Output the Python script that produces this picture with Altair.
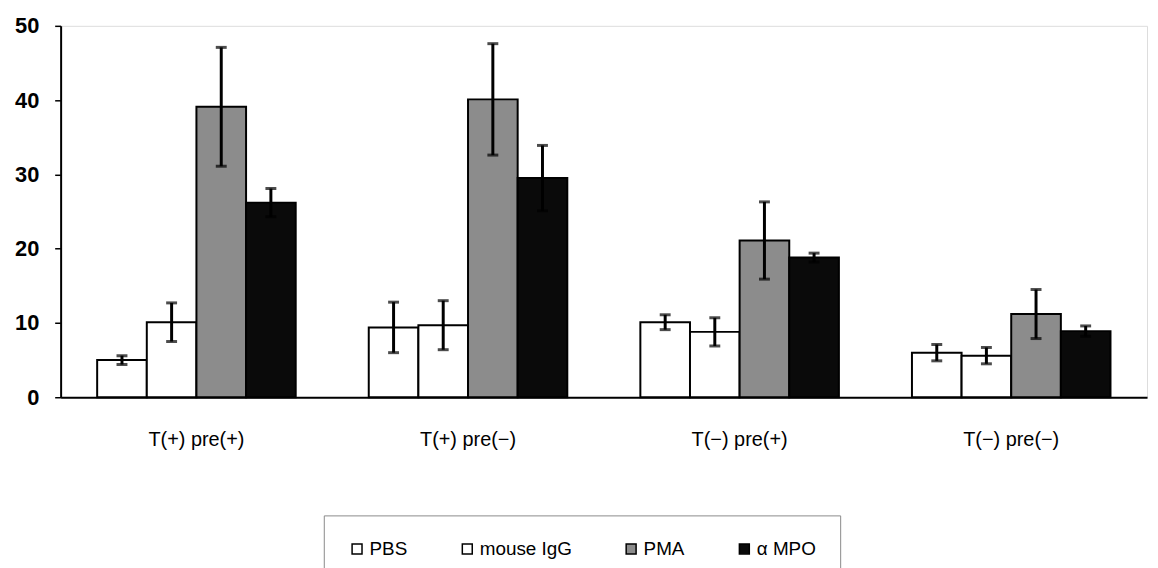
import altair as alt
import pandas as pd

categories = ["T(+) pre(+)", "T(+) pre(−)", "T(−) pre(+)", "T(−) pre(−)"]
series = ["PBS", "mouse IgG", "PMA", "α MPO"]
colors = ["#ffffff", "#ffffff", "#8c8c8c", "#0a0a0a"]

pbs = [5.0, 9.4, 10.1, 6.0]
pbs_err = [0.6, 3.4, 1.0, 1.1]
igg = [10.1, 9.7, 8.8, 5.6]
igg_err = [2.6, 3.3, 1.9, 1.1]
pma = [39.1, 40.1, 21.1, 11.2]
pma_err = [8.0, 7.5, 5.2, 3.3]
mpo = [26.2, 29.5, 18.8, 8.9]
mpo_err = [1.9, 4.4, 0.6, 0.7]

y_ticks = [0, 10, 20, 30, 40, 50]

rows = []
for s, vals, errs in zip(series, [pbs, igg, pma, mpo], [pbs_err, igg_err, pma_err, mpo_err]):
    for c, v, e in zip(categories, vals, errs):
        rows.append({"cat": c, "series": s, "value": v, "lo": v - e, "hi": v + e})
df = pd.DataFrame(rows)

x_enc = alt.X("cat:N", sort=categories,
              scale=alt.Scale(paddingInner=0.269, paddingOuter=0.1345),
              axis=alt.Axis(title=None, labelAngle=0, ticks=False, labelFontSize=20,
                            labelFont="Liberation Sans", labelColor="#000",
                            labelPadding=33, domainColor="#000", domainWidth=2))
xo_enc = alt.XOffset("series:N", sort=series, scale=alt.Scale(domain=series, paddingInner=0, paddingOuter=0))
y_scale = alt.Scale(domain=[0, 50], nice=False)

base = alt.Chart(df)

bars = base.mark_bar(stroke="#000", strokeWidth=2).encode(
    x=x_enc,
    xOffset=xo_enc,
    y=alt.Y("value:Q", scale=y_scale,
            axis=alt.Axis(title=None, values=y_ticks, grid=False, labelFontSize=22,
                          labelFontWeight="bold", labelFont="Liberation Sans",
                          labelColor="#000", tickSize=6, tickColor="#000", tickWidth=1.5,
                          labelPadding=16, domainColor="#000", domainWidth=2)),
    color=alt.Color("series:N", sort=series,
                    scale=alt.Scale(domain=series, range=colors),
                    legend=alt.Legend(title=None, orient="none", direction="horizontal",
                                      legendX=265, legendY=493, padding=24,
                                      strokeColor="#8a8a8a", symbolType="square",
                                      symbolSize=100, symbolStrokeColor="#000",
                                      symbolStrokeWidth=1.5, labelFontSize=19,
                                      labelFont="Liberation Sans", labelColor="#000",
                                      columnPadding=50, labelOffset=3)),
)

rules = base.mark_rule(color="#000", strokeWidth=3).encode(
    x=alt.X("cat:N", sort=categories),
    xOffset=alt.XOffset("series:N", sort=series),
    y=alt.Y("lo:Q", scale=y_scale),
    y2="hi:Q",
)

caps_hi = base.mark_tick(color="#000", thickness=3, size=11).encode(
    x=alt.X("cat:N", sort=categories),
    xOffset=alt.XOffset("series:N", sort=series),
    y=alt.Y("hi:Q", scale=y_scale),
)
caps_lo = base.mark_tick(color="#000", thickness=3, size=11).encode(
    x=alt.X("cat:N", sort=categories),
    xOffset=alt.XOffset("series:N", sort=series),
    y=alt.Y("lo:Q", scale=y_scale),
)

chart = alt.layer(bars, rules, caps_hi, caps_lo).properties(
    width=1094, height=374,
    autosize=alt.AutoSizeParams(type="none"),
    padding={"left": 53, "top": 16, "right": 3, "bottom": 170},
).configure_view(stroke="#9a9a9a", strokeWidth=1).configure(background="#ffffff")

chart.save("out.html", embed_options={"renderer": "svg", "actions": False})
